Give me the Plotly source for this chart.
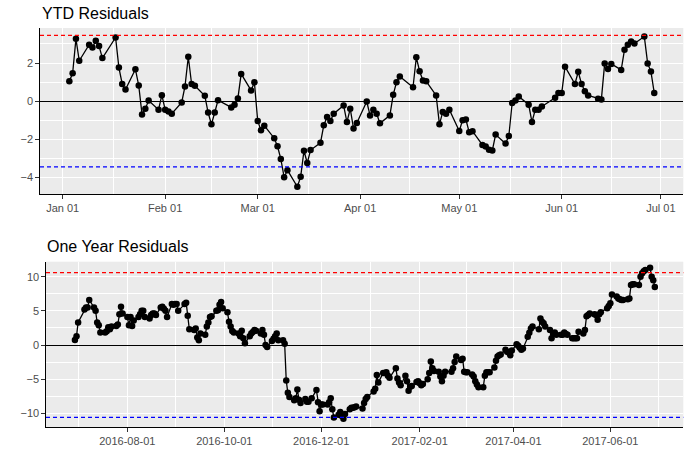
import pandas as pd
import plotly.graph_objects as go

# market holidays (no trading) inside the plotted period
holidays = pd.to_datetime(["2016-07-04", "2016-09-05", "2016-11-24", "2016-12-26",
                           "2017-01-02", "2017-01-16", "2017-02-20", "2017-04-14",
                           "2017-05-29"])

ytd_days = pd.bdate_range("2017-01-03", "2017-06-29")
ytd_days = ytd_days[~ytd_days.isin(holidays)]
year_days = pd.bdate_range("2016-06-29", "2017-06-29")
year_days = year_days[~year_days.isin(holidays)]

ytd_resid = [
    1.04, 1.46, 3.27, 2.12,
    2.96, 2.82, 3.17, 2.89, 2.26,
    3.34, 1.76, 0.90, 0.61,
    1.67, 0.82, -0.70, -0.40, 0.03,
    -0.45, 0.31, -0.45, -0.54, -0.66,
    -0.07, 0.77, 2.33, 0.90, 0.80,
    0.28, -0.60, -1.22, -0.60, 0.05,
    -0.33, -0.19, 0.14, 1.43,
    0.56, 0.99, -1.04, -1.53, -1.29,
    -1.95, -2.37, -3.04, -4.00, -3.63,
    -4.50, -3.98, -2.61, -3.25, -2.57,
    -2.19, -1.27, -0.83, -1.04, -0.66,
    -0.23, -1.10, -0.40, -1.44, -1.15,
    -0.02, -0.75, -0.45, -0.66, -1.17,
    -0.75, 0.33, 0.99, 1.29,
    0.73, 2.30, 1.57, 1.08, 1.04,
    0.30, -1.22, -0.57, -0.66, -0.45,
    -1.57, -1.00, -0.97, -1.63, -1.58,
    -2.30, -2.38, -2.56, -2.59, -1.76,
    -2.23, -1.83, -0.10, 0.03, 0.24,
    -0.19, -1.10, -0.45, -0.45, -0.28,
    0.17, 0.42, 0.42, 1.81,
    0.90, 1.54, 0.90, 0.52, 0.30,
    0.12, 0.09, 1.98, 1.69, 1.95,
    1.64, 2.70, 2.96, 3.13, 3.03,
    3.39, 1.98, 1.55, 0.43,
]

year_resid = [
    # 2016-07
    0.73, 1.3, 3.3, 5.2, 5.5, 5.5, 6.6, 5.5, 5.0, 3.3, 2.9, 1.85,
    1.85, 2.0, 2.6, 2.3, 2.7, 2.8, 3.0, 4.5, 5.6, 4.6,
    # 2016-08
    4.1, 2.9, 4.1, 2.8, 3.6, 4.1, 4.5, 5.0, 5.0, 4.1, 3.9, 4.4,
    4.6, 4.6, 4.4, 5.5, 5.6, 5.3, 5.0, 4.1, 6.0, 5.9, 6.0,
    # 2016-09
    6.0, 5.0, 6.0, 6.2, 4.3, 2.3, 2.2, 2.4, 1.1, 0.7, 1.7,
    1.5, 2.7, 3.3, 4.1, 4.2, 5.0, 5.1, 5.9, 6.3, 5.4,
    # 2016-10
    4.8, 3.4, 2.7, 2.05, 1.85, 1.7, 1.3, 2.1, 1.0, 0.24, 1.3,
    1.7, 1.9, 2.2, 2.1, 1.7, 2.2, 1.5, 0.0, -0.3, 0.6,
    # 2016-11
    0.9, 1.3, 1.7, 0.7, 0.7, 0.2, -5.2, -7.0, -7.6, -8.1, -7.8,
    -6.5, -8.0, -8.5, -7.9, -8.3, -8.3, -7.8, -6.6, -8.4, -9.7,
    # 2016-12
    -8.7, -8.7, -8.7, -8.4, -7.8, -9.4, -10.6, -10.2, -9.8, -10.4, -10.8,
    -10.1, -9.4, -9.2, -9.2, -9.1, -9.0, -9.3, -8.5, -7.9, -7.6,
    # 2017-01
    -6.8, -6.4, -4.4, -5.5, -4.1, -4.1, -4.0, -4.5, -4.8, -3.4,
    -4.9, -5.5, -5.9, -4.5, -5.3, -6.7, -6.1, -6.0, -5.4, -5.3,
    # 2017-02
    -5.6, -5.9, -5.7, -5.0, -4.1, -2.4, -3.4, -3.8, -3.9, -4.6,
    -5.3, -4.5, -3.9, -3.9, -3.4, -2.5, -1.7, -2.2, -2.0,
    # 2017-03
    -3.9, -4.0, -4.0, -4.3, -4.6, -5.3, -5.8, -6.2, -6.2, -4.5, -4.0, -4.0,
    -4.0, -3.3, -2.3, -1.7, -1.5, -1.4, -0.7, -1.0, -1.1, -1.5, -0.8,
    # 2017-04
    0.1, -0.1, -0.4, -0.7, -0.5, 1.2, 1.8, 2.4, 2.7, 2.3,
    3.9, 3.4, 3.2, 2.7, 2.2, 1.0, 1.6, 1.85, 1.5,
    # 2017-05
    1.5, 1.5, 1.85, 1.6, 1.5, 1.0, 1.0, 1.0, 1.0, 1.95, 1.7,
    2.2, 4.2, 4.4, 4.6, 4.5, 4.4, 3.7, 4.5, 4.8, 5.4, 5.7,
    # 2017-06
    6.1, 7.4, 7.1, 6.8, 6.7, 6.6, 6.6, 6.7, 6.8, 8.8, 8.9,
    8.9, 8.8, 10.0, 10.5, 10.8, 11.0, 11.3, 10.0, 9.5, 8.5,
]

ytd_band = 3.45
year_band = 10.6

FONT = "Liberation Sans"
PANEL = "#EBEBEB"
TICK = "#4D4D4D"


def mid_breaks(majors):
    out = []
    for a, b in zip(majors[:-1], majors[1:]):
        out.append(a + (b - a) / 2)
    return [d.strftime("%Y-%m-%d %H:%M") for d in out]


ytd_major = pd.date_range("2016-12-01", "2017-08-01", freq="MS")
year_major = pd.date_range("2016-06-01", "2017-08-01", freq="2MS")

fig = go.Figure()

fig.add_trace(go.Scatter(x=ytd_days, y=ytd_resid, mode="lines+markers",
                         line=dict(color="black", width=1.3),
                         marker=dict(color="black", size=6.5),
                         xaxis="x", yaxis="y", showlegend=False))
fig.add_trace(go.Scatter(x=year_days, y=year_resid, mode="lines+markers",
                         line=dict(color="black", width=1.3),
                         marker=dict(color="black", size=6.5),
                         xaxis="x2", yaxis="y2", showlegend=False))

shapes = []
for yref, xref, band in [("y", "x domain", ytd_band), ("y2", "x2 domain", year_band)]:
    shapes.append(dict(type="line", xref=xref, yref=yref, x0=0, x1=1, y0=band, y1=band,
                       line=dict(color="red", width=1.2, dash="4px,3px")))
    shapes.append(dict(type="line", xref=xref, yref=yref, x0=0, x1=1, y0=-band, y1=-band,
                       line=dict(color="blue", width=1.2, dash="4px,3px")))

axis_common = dict(showline=True, linecolor="black", linewidth=1.3, automargin=False,
                   ticks="outside", ticklen=3.5, tickcolor="#333333", tickwidth=1,
                   showgrid=True, gridcolor="white", gridwidth=1.3,
                   tickfont=dict(family=FONT, size=11, color=TICK))

fig.update_layout(
    width=691, height=466,
    margin=dict(l=0, r=0, t=0, b=0, autoexpand=False),
    paper_bgcolor="white", plot_bgcolor=PANEL,
    font=dict(family=FONT),
    shapes=shapes,
    xaxis=dict(domain=[40 / 691, 683.3 / 691], anchor="y", type="date",
               range=["2016-12-25 03:00", "2017-07-07 19:00"],
               tick0="2017-01-01", dtick="M1", tickformat="%b %d", zeroline=False,
               minor=dict(tickmode="array", tickvals=mid_breaks(ytd_major),
                          showgrid=True, gridcolor="white", gridwidth=0.6),
               **axis_common),
    yaxis=dict(domain=[1 - 194 / 466, 1 - 28 / 466], anchor="x",
               range=[-4.88, 3.84], tick0=0, dtick=2,
               zeroline=True, zerolinecolor="black", zerolinewidth=1.3,
               minor=dict(tick0=0, dtick=1, showgrid=True, gridcolor="white", gridwidth=0.6),
               **axis_common),
    xaxis2=dict(domain=[46 / 691, 683.3 / 691], anchor="y2", type="date",
                range=["2016-06-10 19:00", "2017-07-16 22:00"],
                tick0="2016-08-01", dtick="M2", tickformat="%Y-%m-%d", zeroline=False,
                minor=dict(tickmode="array", tickvals=mid_breaks(year_major),
                           showgrid=True, gridcolor="white", gridwidth=0.6),
                **axis_common),
    yaxis2=dict(domain=[1 - 427.3 / 466, 1 - 261.7 / 466], anchor="x2",
                range=[-12.05, 12.2], tick0=0, dtick=5,
                zeroline=True, zerolinecolor="black", zerolinewidth=1.3,
                minor=dict(tick0=0, dtick=2.5, showgrid=True, gridcolor="white", gridwidth=0.6),
                **axis_common),
    annotations=[
        dict(text="YTD Residuals", xref="paper", yref="paper", x=40 / 691, y=1 - 13.5 / 466,
             xanchor="left", yanchor="middle", showarrow=False,
             font=dict(family=FONT, size=16, color="black")),
        dict(text="One Year Residuals", xref="paper", yref="paper", x=45 / 691, y=1 - 246 / 466,
             xanchor="left", yanchor="middle", showarrow=False,
             font=dict(family=FONT, size=16, color="black")),
    ],
)

# the page's default body margin would shift the 691x466 figure inside the window
fig.write_html("out.html", config={"displayModeBar": False},
               post_script="document.body.style.margin = '0';")
